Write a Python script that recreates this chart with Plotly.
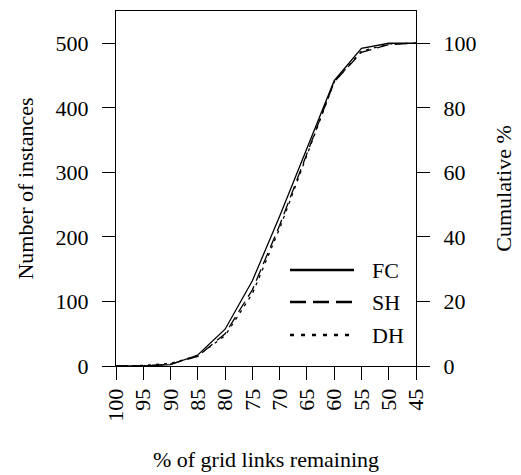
import plotly.graph_objects as go

x_pct = [100, 95, 90, 85, 80, 75, 70, 65, 60, 55, 50, 45]
fc = [0, 0, 2, 17, 57, 132, 232, 338, 442, 492, 500, 500]
sh = [0, 0, 3, 15, 50, 118, 218, 330, 440, 486, 498, 500]
dh = [0, 1, 4, 16, 47, 112, 213, 328, 440, 488, 499, 500]

series = [("FC", fc, "solid"), ("SH", sh, "12px,6px"), ("DH", dh, "3px,5px")]
legend_dash = {"FC": "solid", "SH": "16px,7px", "DH": "4px,7px"}

FONT = "Liberation Serif"
FS = 22

fig = go.Figure()
for name, vals, dash in series:
    fig.add_trace(go.Scatter(x=x_pct, y=vals, mode="lines", name=name,
                             line=dict(color="black", width=1.3, dash=dash),
                             showlegend=False))
# invisible trace to activate right axis
fig.add_trace(go.Scatter(x=[100], y=[0], yaxis="y2", mode="lines",
                         showlegend=False, hoverinfo="skip",
                         line=dict(color="rgba(0,0,0,0)")))

ax_common = dict(showgrid=False, zeroline=False, showline=True, linecolor="black",
                 linewidth=1, ticks="outside", ticklen=13, tickwidth=1, automargin=False,
                 tickcolor="black", tickfont=dict(family=FONT, size=FS, color="black"))

fig.update_layout(
    width=521, height=475,
    margin=dict(l=116, r=105, t=11, b=109),
    paper_bgcolor="white", plot_bgcolor="white",
    font=dict(family=FONT, size=FS, color="black"),
    xaxis=dict(range=[100, 45], tickvals=x_pct, ticktext=[str(v) for v in x_pct],
               tickangle=-90, mirror=True,
               title=dict(text="% of grid links remaining", standoff=30,
                          font=dict(family=FONT, size=FS)),
               **ax_common),
    yaxis=dict(range=[0, 550], tickvals=[0, 100, 200, 300, 400, 500], mirror=True,
               ticklabelstandoff=9,
               title=dict(text="Number of instances", standoff=15,
                          font=dict(family=FONT, size=FS)),
               **ax_common),
    yaxis2=dict(range=[0, 110], tickvals=[0, 20, 40, 60, 80, 100], overlaying="y",
                side="right", ticklabelstandoff=9,
                title=dict(text="Cumulative %", standoff=20,
                           font=dict(family=FONT, size=FS)),
                **ax_common),
)

# custom legend
rows_y = [270, 302, 335]
for (name, _, _), py in zip(series, rows_y):
    yp = 1 - (py - 11) / (366 - 11)
    x0 = (290 - 116) / 300
    x1 = (354 - 116) / 300
    fig.add_shape(type="line", xref="paper", yref="paper", x0=x0, x1=x1, y0=yp, y1=yp,
                  line=dict(color="black", width=2.5, dash=legend_dash[name]))
    fig.add_annotation(xref="paper", yref="paper", x=(370 - 116) / 300, y=yp,
                       text=name, showarrow=False, xanchor="left", yanchor="middle",
                       font=dict(family=FONT, size=FS, color="black"))

fig.write_html("out.html")
